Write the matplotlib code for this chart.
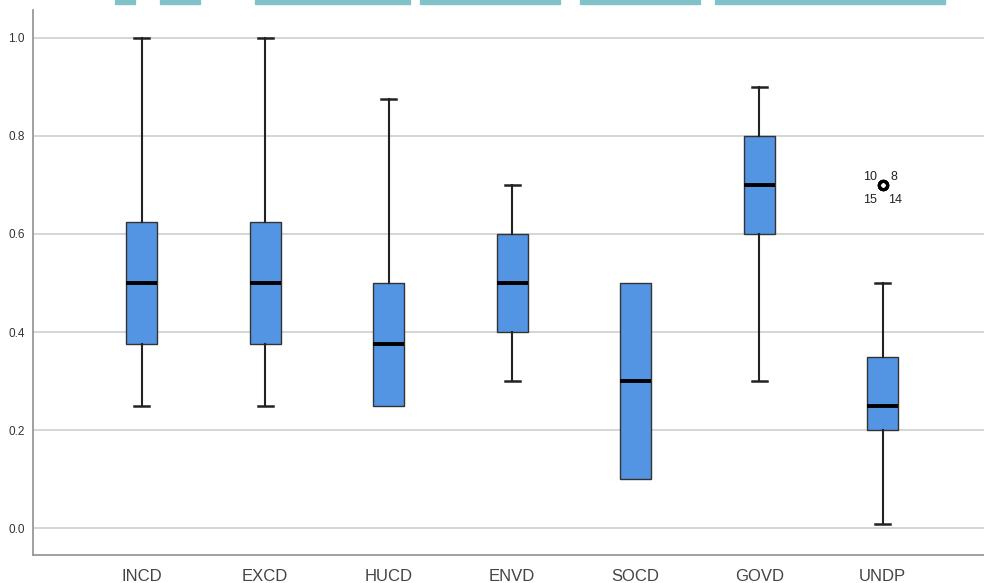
import matplotlib
matplotlib.use('Agg')
import matplotlib.pyplot as plt
from matplotlib.patches import Rectangle

# 各变量的箱线图统计值
labels = ['INCD', 'EXCD', 'HUCD', 'ENVD', 'SOCD', 'GOVD', 'UNDP']
whislo = [0.25, 0.25, 0.25, 0.30, 0.10, 0.30, 0.008]
q1 = [0.375, 0.375, 0.25, 0.40, 0.10, 0.60, 0.20]
med = [0.50, 0.50, 0.375, 0.50, 0.30, 0.70, 0.25]
q3 = [0.625, 0.625, 0.50, 0.60, 0.50, 0.80, 0.35]
whishi = [1.00, 1.00, 0.875, 0.70, 0.50, 0.90, 0.50]

# UNDP 的离群值及其个案编号
outlier_vals = [0.70, 0.70, 0.70, 0.70]
outlier_ids = ['10', '8', '15', '14']

yticks = [0.0, 0.2, 0.4, 0.6, 0.8, 1.0]

plt.rcParams['font.family'] = ['Liberation Sans', 'DejaVu Sans']

fig = plt.figure(figsize=(9.84, 5.83), dpi=100)
ax = fig.add_axes([33 / 984, 1 - 555 / 583, 1 - 33 / 984, (555 - 10) / 583])

# 顶部水印残片
for x0, x1 in [(115, 135), (160, 200), (255, 410), (420, 560), (580, 700), (715, 945)]:
    fig.patches.append(Rectangle((x0 / 984, 1 - 4 / 583), (x1 - x0) / 984, 4 / 583,
                                 transform=fig.transFigure, color='#7fc3c8', zorder=0))

stats = []
for i, lab in enumerate(labels):
    stats.append(dict(label=lab, whislo=whislo[i], q1=q1[i], med=med[i],
                      q3=q3[i], whishi=whishi[i],
                      fliers=outlier_vals if lab == 'UNDP' else []))

bp = ax.bxp(stats, positions=range(len(labels)), widths=0.25, patch_artist=True,
            boxprops=dict(facecolor='#5394e3', edgecolor='#333333', linewidth=1.0),
            medianprops=dict(color='black', linewidth=2.8),
            whiskerprops=dict(color='#222222', linewidth=1.5),
            capprops=dict(color='#222222', linewidth=1.8),
            capwidths=0.12,
            flierprops=dict(marker='o', markersize=6, markerfacecolor='none',
                            markeredgecolor='black', markeredgewidth=2.2),
            zorder=3)

# 须线与箱体重合时不画端线
for i in range(len(labels)):
    if whislo[i] == q1[i]:
        bp['caps'][2 * i].set_visible(False)
    if whishi[i] == q3[i]:
        bp['caps'][2 * i + 1].set_visible(False)

# 离群值编号
ux = labels.index('UNDP')
offsets = [(-0.10, 0.016), (0.09, 0.016), (-0.10, -0.03), (0.10, -0.03)]
for (dx, dy), v, t in zip(offsets, outlier_vals, outlier_ids):
    ax.text(ux + dx, v + dy, t, ha='center', va='center', fontsize=9, color='#222222')

ax.set_xlim(-0.88, 6.82)
ax.set_ylim(-0.055, 1.057)
ax.set_yticks(yticks)
ax.set_yticklabels([f'{v:.1f}' for v in yticks], fontsize=8.5, color='#333333')
ax.set_xticks(range(len(labels)))
ax.set_xticklabels(labels, fontsize=12, color='#444444')
ax.tick_params(axis='both', length=0)
ax.tick_params(axis='x', pad=10)
ax.tick_params(axis='y', pad=6)

ax.grid(True, axis='y', color='#d2d2d2', linewidth=1.3, zorder=0)
ax.set_axisbelow(True)
for side in ['top', 'right']:
    ax.spines[side].set_visible(False)
for side in ['left', 'bottom']:
    ax.spines[side].set_color('#999999')
    ax.spines[side].set_linewidth(1.3)

fig.savefig('out.png', dpi=100)
